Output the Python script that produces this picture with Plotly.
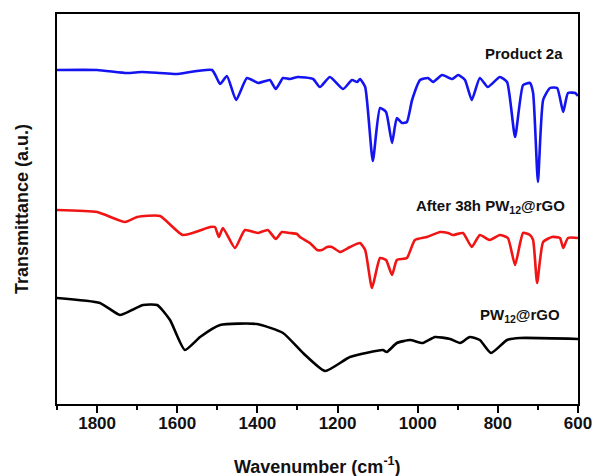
import plotly.graph_objects as go

# Wavenumber (cm-1) and transmittance (a.u.)
wn_product = [1900, 1800, 1725, 1688, 1643, 1603, 1513, 1493, 1476, 1453, 1426, 1398, 1369, 1354,
              1336, 1319, 1299, 1261, 1244, 1219, 1186, 1164, 1151, 1144, 1131, 1112, 1094, 1079,
              1064, 1052, 1039, 1027, 1014, 994, 974, 962, 939, 914, 899, 882, 865, 845, 825, 795,
              777, 757, 737, 720, 712, 700, 687, 670, 652, 637, 625, 607, 600]
t_product = [334, 334, 331, 332, 331, 330, 334, 320, 328, 304, 326, 321, 324, 315,
             326, 325, 327, 325, 317, 327, 315, 324, 322, 325, 317, 243, 296, 292,
             261, 286, 281, 282, 304, 324, 326, 322, 329, 325, 329, 324, 304, 326, 317, 327,
             322, 267, 319, 321, 311, 222, 304, 316, 316, 292, 311, 311, 308]

wn_after = [1900, 1800, 1730, 1700, 1643, 1586, 1518, 1506, 1496, 1486, 1456, 1431, 1398, 1374,
            1354, 1339, 1319, 1301, 1294, 1269, 1251, 1239, 1226, 1214, 1194, 1169, 1144, 1131,
            1114, 1094, 1079, 1064, 1052, 1027, 1007, 977, 944, 924, 912, 887, 865, 845, 820,
            795, 775, 757, 737, 720, 712, 702, 687, 665, 645, 637, 625, 600]
t_after = [194, 192, 182, 187, 188, 169, 177, 177, 167, 176, 156, 174, 171, 174,
           165, 172, 171, 170, 167, 161, 154, 154, 157, 157, 152, 157, 161, 154,
           116, 146, 144, 129, 144, 146, 164, 167, 172, 171, 169, 171, 157, 169, 164,
           169, 166, 139, 171, 169, 164, 121, 162, 167, 166, 156, 166, 166]

wn_pw12 = [1900, 1793, 1743, 1713, 1685, 1650, 1618, 1581, 1543, 1493, 1401, 1336, 1286, 1231,
           1169, 1087, 1077, 1052, 1019, 987, 957, 919, 894, 870, 845, 817, 777, 745, 600]
t_pw12 = [106, 101, 89, 94, 99, 99, 84, 54, 67, 79, 80, 71, 51, 33,
          47, 54, 52, 61, 64, 61, 67, 65, 61, 67, 64, 51, 64, 66, 65]

labels = ["Product 2a", "After 38h PW<sub>12</sub>@rGO", "PW<sub>12</sub>@rGO"]
label_wn = [632, 627, 640]
label_t = [351, 198, 89]

x_ticks = [1800, 1600, 1400, 1200, 1000, 800, 600]
x_minor = [1900, 1700, 1500, 1300, 1100, 900, 700]

FONT = "Liberation Sans, Arial, sans-serif"

fig = go.Figure()
for wn, t, c in [(wn_product, t_product, "#1414f0"),
                 (wn_after, t_after, "#f01414"),
                 (wn_pw12, t_pw12, "#000000")]:
    fig.add_trace(go.Scatter(x=wn, y=t, mode="lines",
                             line=dict(color=c, width=2.6, shape="spline", smoothing=0.5),
                             showlegend=False, hoverinfo="skip"))

for txt, xv, yv in zip(labels, label_wn, label_t):
    fig.add_annotation(x=xv, y=yv, text="<b>" + txt + "</b>", showarrow=False,
                       xanchor="right", yanchor="middle",
                       font=dict(family=FONT, size=15, color="#111111"))

fig.add_annotation(xref="paper", yref="paper", x=0.5, y=0, yshift=-61,
                   text="<b>Wavenumber (cm<sup>-1</sup>)</b>", showarrow=False,
                   xanchor="center", yanchor="middle",
                   font=dict(family=FONT, size=18, color="#111111"))
fig.add_annotation(xref="paper", yref="paper", x=0, y=0.5, xshift=-35,
                   text="<b>Transmittance (a.u.)</b>", showarrow=False, textangle=-90,
                   xanchor="center", yanchor="middle",
                   font=dict(family=FONT, size=18, color="#111111"))

fig.update_layout(
    width=595, height=476, autosize=False,
    margin=dict(l=57, r=17, t=14, b=72, autoexpand=False),
    paper_bgcolor="white", plot_bgcolor="white",
    xaxis=dict(range=[1900, 600], tickvals=x_ticks, ticks="outside", ticklen=7, tickwidth=2,
               tickcolor="black", showline=True, linewidth=2, linecolor="black", mirror=True,
               showgrid=False, zeroline=False, automargin=False, ticklabelstandoff=-4,
               tickfont=dict(family=FONT, size=17, color="#111111", weight="bold"),
               minor=dict(tickvals=x_minor, ticks="outside",
                          ticklen=4, tickwidth=2, tickcolor="black", showgrid=False)),
    yaxis=dict(range=[0, 390], showticklabels=False, ticks="", showline=True, linewidth=2,
               linecolor="black", mirror=True, showgrid=False, zeroline=False, automargin=False),
)

fig.write_html("out.html",
               config={"responsive": False, "displayModeBar": False},
               post_script="document.body.style.margin='0';document.body.style.overflow='hidden';")
